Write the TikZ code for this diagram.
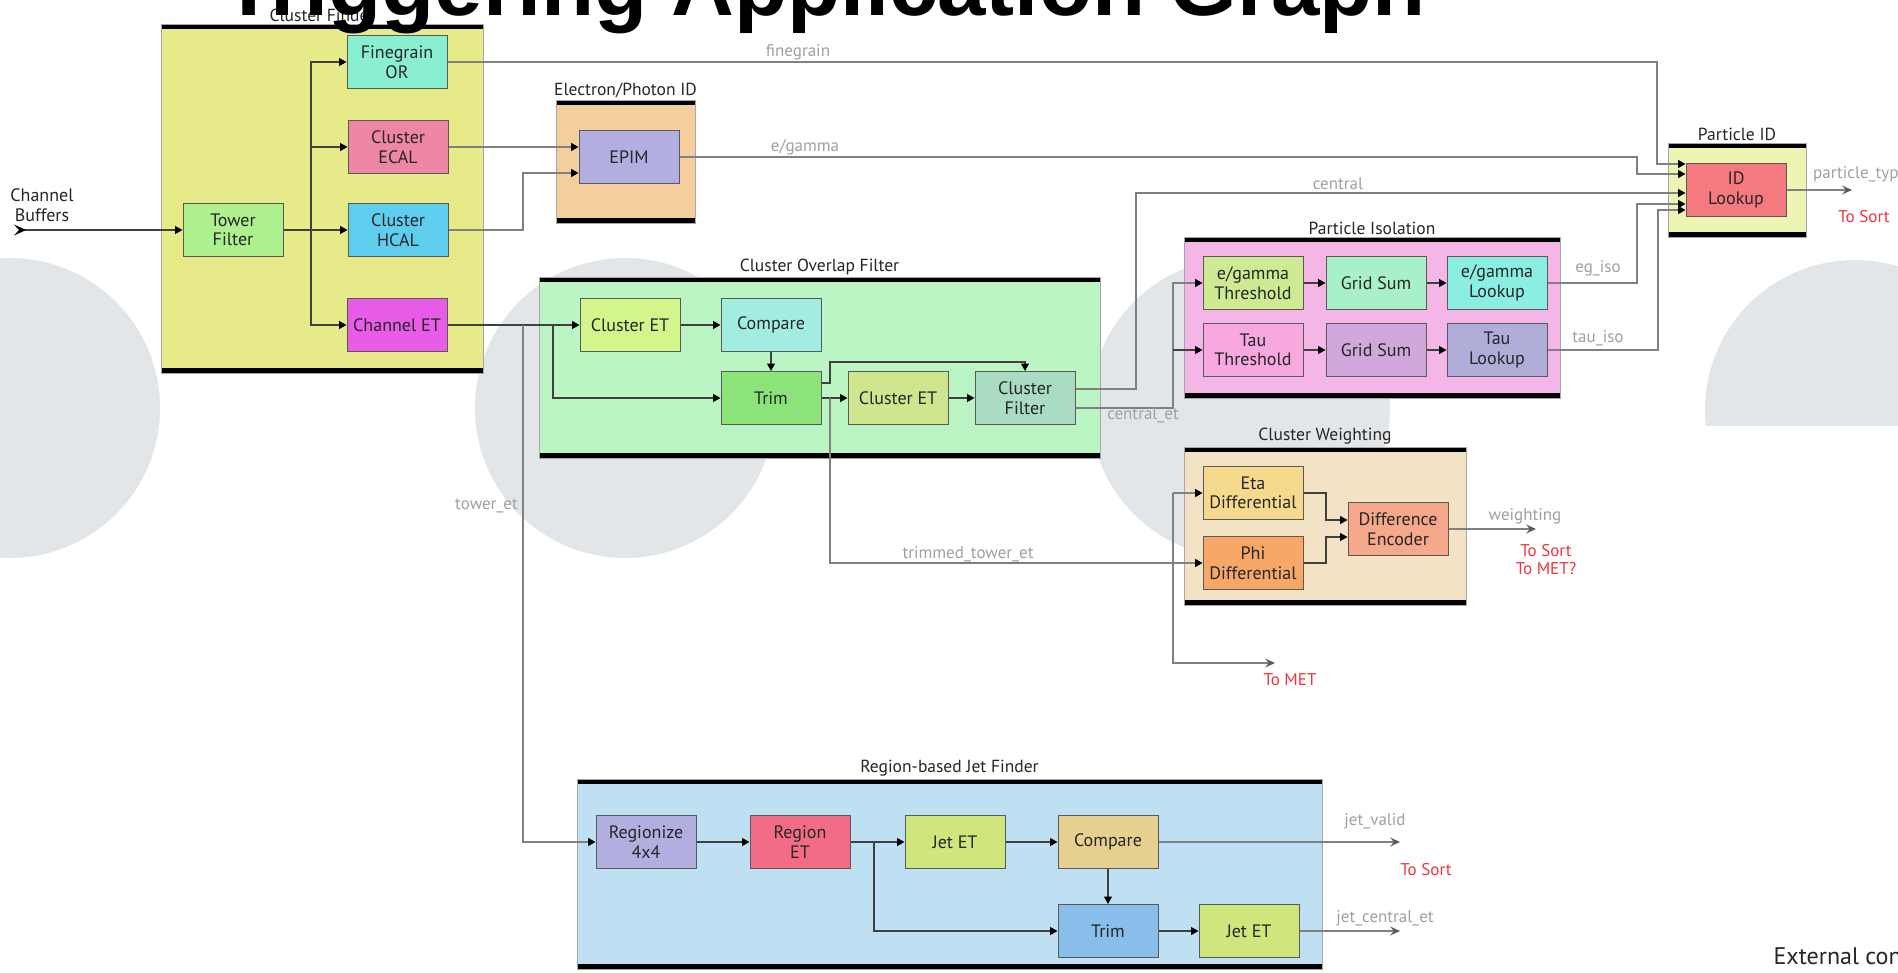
\documentclass[tikz,border=0pt]{standalone}
\usepackage{fontspec}
\setmainfont{PT Sans}
\newfontfamily\headfont{Liberation Sans}
\usetikzlibrary{arrows.meta,fit}

% block fills
\definecolor{cfinC}{HTML}{E6EA88}
\definecolor{towerC}{HTML}{AEF08E}
\definecolor{fineC}{HTML}{8AEED0}
\definecolor{ecalC}{HTML}{EE86A6}
\definecolor{hcalC}{HTML}{5FCEEE}
\definecolor{chetC}{HTML}{E85CE8}
\definecolor{epidC}{HTML}{F4CE9C}
\definecolor{epimC}{HTML}{B3AEE0}
\definecolor{cofC}{HTML}{BAF5C3}
\definecolor{cetaC}{HTML}{D4F58C}
\definecolor{cmpaC}{HTML}{A2ECE0}
\definecolor{trimaC}{HTML}{8BE37A}
\definecolor{cetbC}{HTML}{D0E68E}
\definecolor{cfilC}{HTML}{A9DCC2}
\definecolor{isoC}{HTML}{F4B6E6}
\definecolor{egthC}{HTML}{CEEA92}
\definecolor{gsaC}{HTML}{A8F0CA}
\definecolor{eglkC}{HTML}{8AEEE2}
\definecolor{tauthC}{HTML}{F7A8DE}
\definecolor{gsbC}{HTML}{D0A8DC}
\definecolor{taulkC}{HTML}{B0AED8}
\definecolor{pidC}{HTML}{EEF5B2}
\definecolor{idlC}{HTML}{F47A80}
\definecolor{cwC}{HTML}{F3E2C4}
\definecolor{etaC}{HTML}{F5D98C}
\definecolor{phiC}{HTML}{F7A868}
\definecolor{dencC}{HTML}{F5A98A}
\definecolor{rjfC}{HTML}{BEE0F2}
\definecolor{regzC}{HTML}{B3AEE0}
\definecolor{rgetC}{HTML}{F26C86}
\definecolor{jetC}{HTML}{CEE67C}
\definecolor{cmpbC}{HTML}{E6D090}
\definecolor{trimbC}{HTML}{8ABEEA}
\definecolor{discC}{HTML}{E3E6E9}
\definecolor{sigC}{HTML}{A0A0A0}
\definecolor{noteC}{HTML}{F2333F}

\newcommand\bxfont{\fontsize{18}{19.5}\selectfont}
\newcommand\gpfont{\fontsize{17.5}{19}\selectfont}
\newcommand\sgfont{\fontsize{17}{18}\selectfont}

\begin{document}
\begin{tikzpicture}[x=1pt,y=-1pt,
  >={Triangle[length=7.5pt,width=8pt,color=black]},
  blk/.style={draw=black!65, line width=1pt, minimum width=100pt, minimum height=53pt,
    inner sep=1pt, align=center, font=\bxfont, text=black!85},
  grp/.style={draw=black!35, line width=0.6pt, inner sep=0pt,
    path picture={
      \fill[black] (path picture bounding box.north west) rectangle ([yshift=-5pt]path picture bounding box.north east);
      \fill[black] (path picture bounding box.south west) rectangle ([yshift=5pt]path picture bounding box.south east);}},
  grptitle/.style={anchor=south, inner sep=2pt, font=\gpfont, text=black!85},
  wire/.style={draw=black!75, line width=1.2pt},
  bus/.style={draw=black!50, line width=1.6pt},
  outarr/.style={-{Stealth[length=10pt,width=9pt,inset=4pt,color=black!65]}},
  sig/.style={font=\sgfont, text=sigC, inner sep=1pt},
  note/.style={font=\sgfont, text=noteC, inner sep=1pt, align=center}]

\useasboundingbox (0,0) rectangle (1898,972);
\clip (0,0) rectangle (1898,972);
\fill[white] (0,0) rectangle (1898,972);

% background discs
\fill[discC] (10,408) circle[radius=150];
\fill[discC] (625,408) circle[radius=150];
\fill[discC] (1240,408) circle[radius=150];
\begin{scope}
  \clip (1600,0) rectangle (1898,425);
  \fill[discC] (1855,410) circle[radius=150];
\end{scope}

% ---------- group frames ----------
\node[grp, fill=cfinC, fit={(161,24) (483,373)}] (cfin) {};
\node[grptitle] (cfinT) at (cfin.north) {Cluster Finder};
\node[grp, fill=epidC, fit={(556,100) (695,223)}] (epid) {};
\node[grptitle] (epidT) at (epid.north) {Electron/Photon ID};
\node[grp, fill=cofC, fit={(539,277) (1100,458)}] (cof) {};
\node[grptitle] (cofT) at (cof.north) {Cluster Overlap Filter};
\node[grp, fill=isoC, fit={(1184,237) (1560,398)}] (iso) {};
\node[grptitle] (isoT) at (iso.north) {Particle Isolation};
\node[grp, fill=pidC, fit={(1668,143) (1806,237)}] (pid) {};
\node[grptitle] (pidT) at (pid.north) {Particle ID};
\node[grp, fill=cwC, fit={(1184,447) (1466,605)}] (cw) {};
\node[grptitle] (cwT) at (cw.north) {Cluster Weighting};
\node[grp, fill=rjfC, fit={(577,779) (1322,969)}] (rjf) {};
\node[grptitle] (rjfT) at (rjf.north) {Region-based Jet Finder};

% ---------- blocks ----------
\node[blk, fill=towerC] (tf) at (233,230) {Tower\\Filter};
\node[blk, fill=fineC] (fg) at (397,62) {Finegrain\\OR};
\node[blk, fill=ecalC] (ecal) at (398,147) {Cluster\\ECAL};
\node[blk, fill=hcalC] (hcal) at (398,230) {Cluster\\HCAL};
\node[blk, fill=chetC] (chet) at (397,325) {Channel ET};

\node[blk, fill=epimC] (epim) at (629,157) {EPIM};

\node[blk, fill=cetaC] (cet1) at (630,325) {Cluster ET};
\node[blk, fill=cmpaC] (cmp1) at (771,325) {Compare};
\node[blk, fill=trimaC] (trim1) at (771,398) {Trim};
\node[blk, fill=cetbC] (cet2) at (898,398) {Cluster ET};
\node[blk, fill=cfilC] (cfil) at (1025,398) {Cluster\\Filter};

\node[blk, fill=egthC] (egth) at (1253,283) {e/gamma\\Threshold};
\node[blk, fill=gsaC] (gs1) at (1376,283) {Grid Sum};
\node[blk, fill=eglkC] (eglk) at (1497,283) {e/gamma\\Lookup};
\node[blk, fill=tauthC] (tauth) at (1253,350) {Tau\\Threshold};
\node[blk, fill=gsbC] (gs2) at (1376,350) {Grid Sum};
\node[blk, fill=taulkC] (taulk) at (1497,350) {Tau\\Lookup};

\node[blk, fill=idlC] (idl) at (1736,190) {ID\\Lookup};

\node[blk, fill=etaC] (eta) at (1253,493) {Eta\\Differential};
\node[blk, fill=phiC] (phi) at (1253,563) {Phi\\Differential};
\node[blk, fill=dencC] (denc) at (1398,529) {Difference\\Encoder};

\node[blk, fill=regzC] (regz) at (646,842) {Regionize\\4x4};
\node[blk, fill=rgetC] (rget) at (800,842) {Region\\ET};
\node[blk, fill=jetC] (jet1) at (955,842) {Jet ET};
\node[blk, fill=cmpbC] (cmp2) at (1108,842) {Compare};
\node[blk, fill=trimbC] (trim2) at (1108,931) {Trim};
\node[blk, fill=jetC] (jet2) at (1249,931) {Jet ET};

% free ends and junctions
\coordinate (cbin) at (14,230);
\coordinate (cfbus) at (311,230);
\coordinate (chj) at (553,325);
\coordinate (twj) at (523,325);
\coordinate (trj) at (830,398);
\coordinate (rgj) at (874,842);
\coordinate (idout) at (1852,190);
\coordinate (wout) at (1536,529);
\coordinate (metout) at (1275,663);
\coordinate (jvout) at (1400,842);
\coordinate (jcout) at (1400,931);

% ---------- connectors ----------
% cluster finder
\draw[wire, {Stealth[reversed,length=12pt,width=11pt,inset=5pt,color=black]}->] (cbin) -- (tf.west);
\draw[wire,->] (tf.east) -- (hcal.west);
\draw[wire,->] (cfbus) |- (fg.west);
\draw[wire,->] (cfbus) |- (ecal.west);
\draw[wire,->] (cfbus) |- (chet.west);

% electron/photon id
\draw[bus,->] (ecal.east) -- (ecal.east -| epim.west);
\draw[bus,->] (hcal.east) -| (523,173) -- (epim.west |- 0,173);

% particle id inputs
\draw[bus,->] (fg.east) -| (1657,164) -- (idl.west |- 0,164);
\draw[bus,->] (epim.east) -| (1637,174) -- (idl.west |- 0,174);
\draw[bus,->] (cfil.east |- 0,389) -| (1136,193) -- (idl.west |- 0,193);
\draw[bus,->] (eglk.east) -| (1637,204) -- (idl.west |- 0,204);
\draw[bus,->] (taulk.east) -| (1658,210) -- (idl.west |- 0,210);
\draw[bus,outarr] (idl.east) -- (idout);

% particle isolation
\draw[bus,->] (cfil.east |- 0,408) -| (1173,283) -- (egth.west);
\draw[wire,->] (tauth.west -| 1173,0) -- (tauth.west);
\draw[wire,->] (egth.east) -- (gs1.west);
\draw[wire,->] (gs1.east) -- (eglk.west);
\draw[wire,->] (tauth.east) -- (gs2.west);
\draw[wire,->] (gs2.east) -- (taulk.west);

% cluster overlap filter
\draw[wire,->] (chet.east) -- (cet1.west);
\draw[wire,->] (chj) |- (trim1.west);
\draw[bus,->] (twj) |- (regz.west);
\draw[wire,->] (cet1.east) -- (cmp1.west);
\draw[wire,->] (cmp1.south) -- (trim1.north);
\draw[wire,->] (trim1.east) -- (cet2.west);
\draw[wire,->] (trim1.east |- 0,383) -| (830,362) -| (cfil.north);
\draw[wire,->] (cet2.east) -- (cfil.west);
\draw[bus,->] (trj) |- (phi.west);

% cluster weighting
\draw[bus,->] (eta.west -| 1173,0) -- (eta.west);
\draw[bus,outarr] (eta.west -| 1173,0) |- (metout);
\draw[wire,->] (eta.east) -| (1326,520) -- (denc.west |- 0,520);
\draw[wire,->] (phi.east) -| (1326,537) -- (denc.west |- 0,537);
\draw[bus,outarr] (denc.east) -- (wout);

% region-based jet finder
\draw[wire,->] (regz.east) -- (rget.west);
\draw[wire,->] (rget.east) -- (jet1.west);
\draw[wire,->] (rgj) |- (trim2.west);
\draw[wire,->] (jet1.east) -- (cmp2.west);
\draw[wire,->] (cmp2.south) -- (trim2.north);
\draw[wire,->] (trim2.east) -- (jet2.west);
\draw[bus,outarr] (cmp2.east) -- (jvout);
\draw[bus,outarr] (jet2.east) -- (jcout);

% ---------- signal names and notes ----------
\node[font=\bxfont, text=black!85, align=center] (cbufT) at (42,205) {Channel\\Buffers};
\node[sig] (sfine) at (798,52) {finegrain};
\node[sig] (segam) at (805,147) {e/gamma};
\node[sig] (scent) at (1338,184) {central};
\node[sig] (scet) at (1143,415) {central\_et};
\node[sig] (segiso) at (1598,268) {eg\_iso};
\node[sig] (stauiso) at (1598,338) {tau\_iso};
\node[sig, anchor=west] (sptype) at (1812,174) {particle\_type};
\node[note] (nid) at (1864,217) {To Sort};
\node[sig, anchor=east] (stower) at (519,506) {tower\_et};
\node[sig] (strim) at (968,554) {trimmed\_tower\_et};
\node[sig] (sweight) at (1525,516) {weighting};
\node[note] (nweight) at (1546,560) {To Sort\\To MET?};
\node[note] (nmet) at (1290,680) {To MET};
\node[sig] (sjv) at (1375,821) {jet\_valid};
\node[note] (njv) at (1426,870) {To Sort};
\node[sig] (sjc) at (1385,918) {jet\_central\_et};
\node[anchor=west, font=\fontsize{24}{26}\selectfont, text=black!85] (ext) at (1770,956) {External connections};

% heading
\node[anchor=base west, inner sep=0pt, font=\headfont\bfseries\fontsize{87}{87}\selectfont] (head) at (222,15) {Triggering Application Graph};
\end{tikzpicture}
\end{document}
